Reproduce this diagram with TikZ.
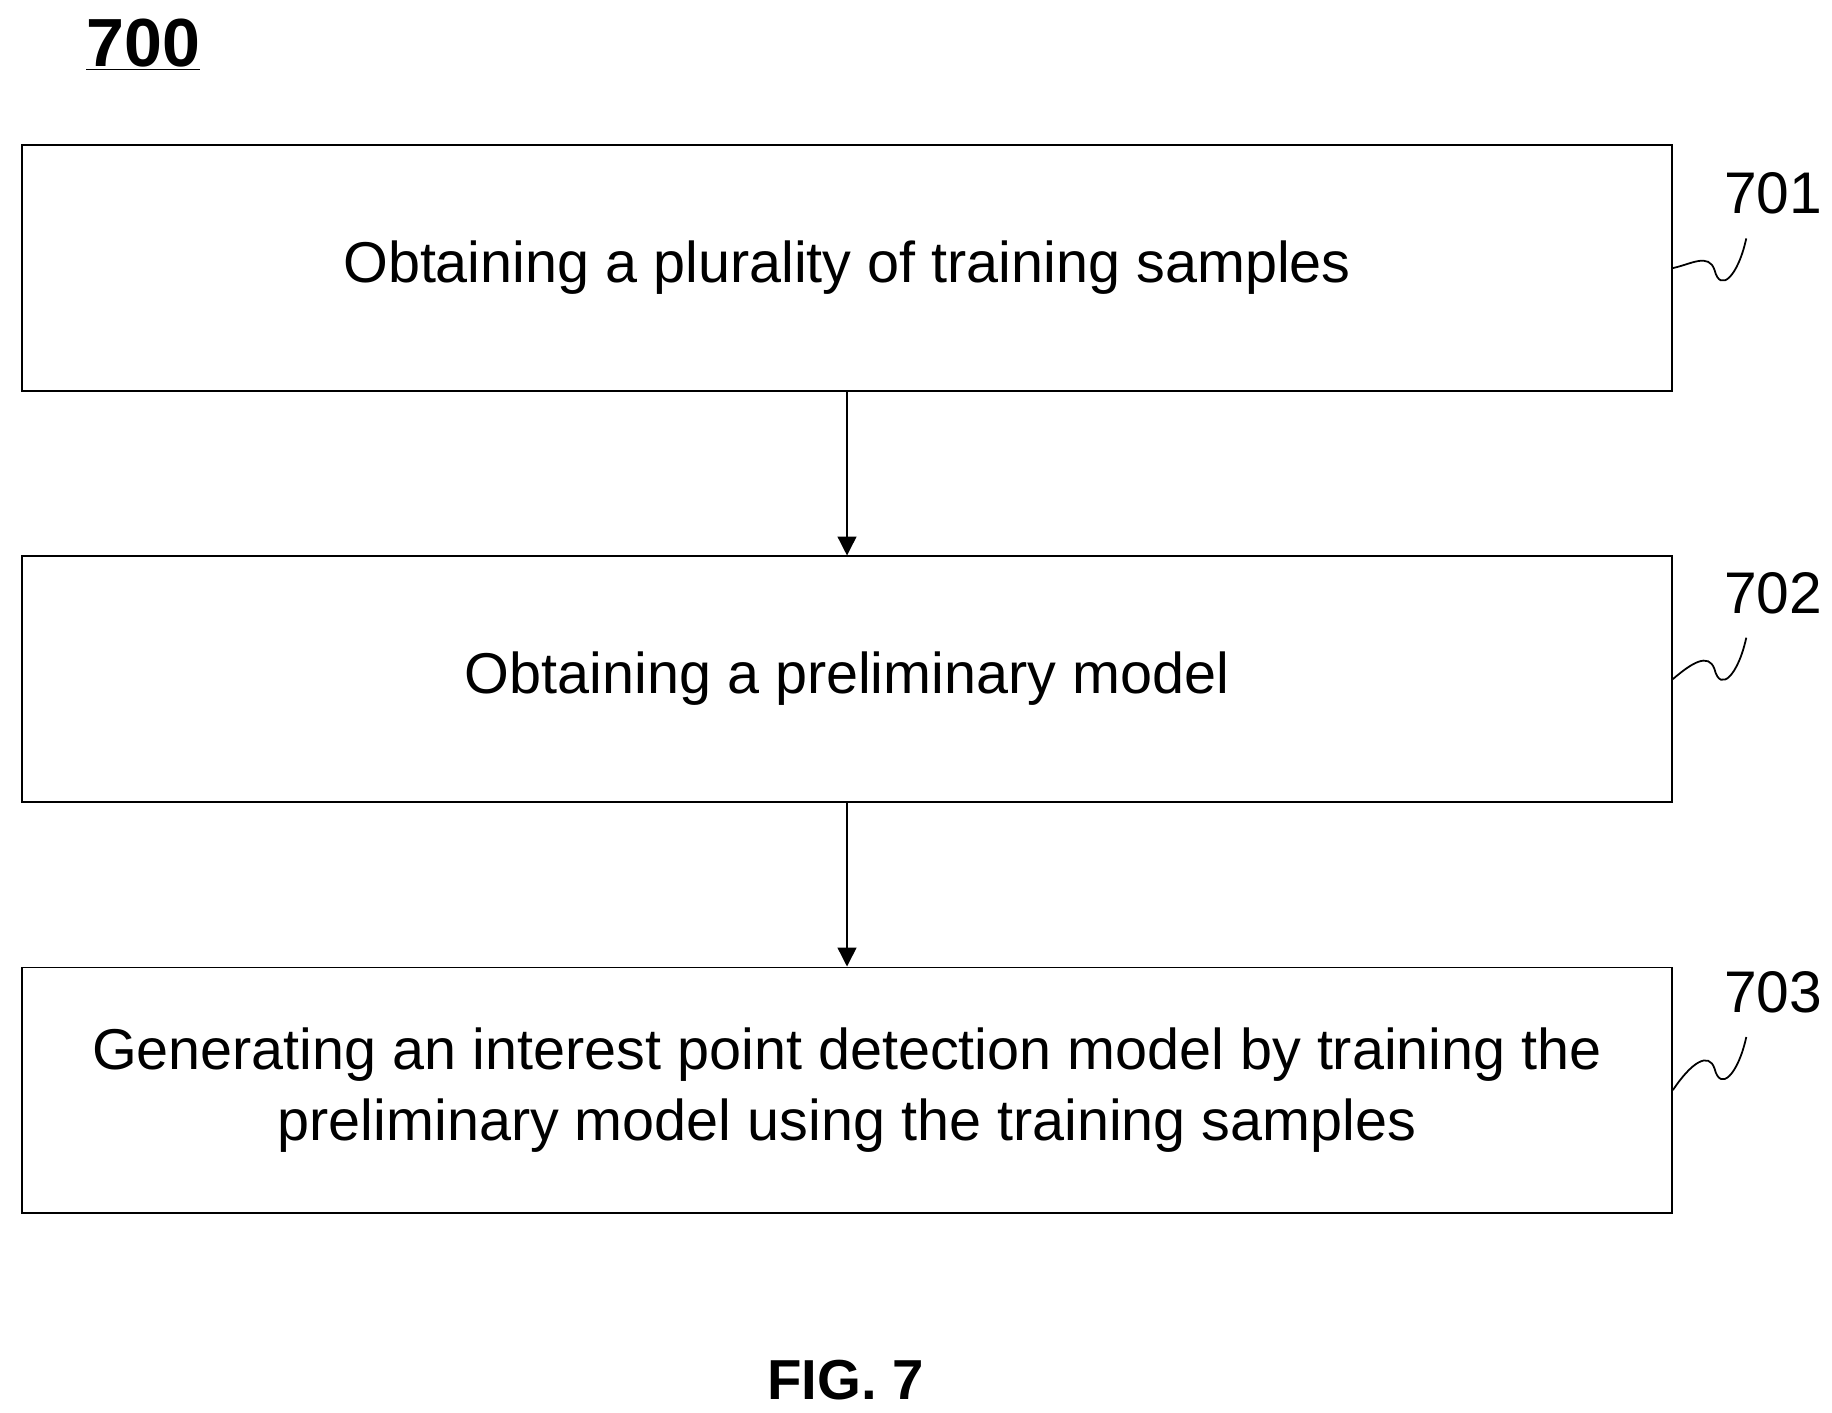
\documentclass[tikz,border=0pt]{standalone}
\usepackage{fontspec}
\setmainfont{Liberation Sans}
\usetikzlibrary{arrows.meta}
\begin{document}
\begin{tikzpicture}[x=1pt,y=-1pt,
  box/.style={draw,line width=1.5pt,minimum width=1405pt,minimum height=209pt,anchor=north west,inner sep=0pt,align=center,font=\fontsize{49}{60}\selectfont},
  lab/.style={font=\fontsize{50}{55}\selectfont},
  arr/.style={draw,line width=1.2pt,-{Triangle[width=16pt,length=16pt]}},
  sq/.style={draw,line width=1.5pt}]
\useasboundingbox (0,0) rectangle (1560,1203);
\node[font=\bfseries\fontsize{58}{60}\selectfont] (t) at (122,38) {\underline{700}};
\node[box] (b1) at (18,123) {\raisebox{-6pt}{Obtaining a plurality of training samples}};
\node[box] (b2) at (18,473) {\raisebox{-6pt}{Obtaining a preliminary model}};
\node[box] (b3) at (18,823) {Generating an interest point detection model by training the\\preliminary model using the training samples};
\draw[arr] (b1.south) -- (b2.north);
\draw[arr] (b2.south) -- (b3.north);
\foreach \b/\n/\y in {b1/701/165,b2/702/505,b3/703/845}{
  \node[lab] (l\n) at (1510,\y) {\n};
  \coordinate (s\n) at (1487,\y+38);
  \draw[sq] (\b.east) .. controls (1440,\y+60) and (1455,\y+50) .. (1460,\y+65) .. controls (1465,\y+85) and (1480,\y+70) .. (s\n);
}
\node[font=\bfseries\fontsize{48}{50}\selectfont] (f) at (720,1175) {FIG. 7};
\end{tikzpicture}
\end{document}
